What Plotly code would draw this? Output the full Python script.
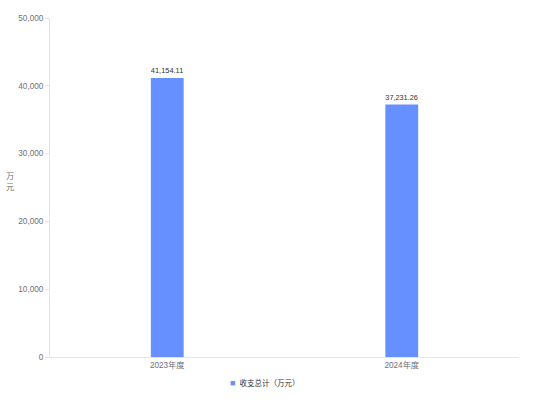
import plotly.graph_objects as go

categories = ["2023年度", "2024年度"]
values = [41154.11, 37231.26]
series_name = "收支总计（万元）"
tick_vals = [0, 10000, 20000, 30000, 40000, 50000]

font_family = "Liberation Sans, Arial, Noto Sans CJK SC, sans-serif"
bar_color = "#6690FF"

fig = go.Figure()
fig.add_trace(go.Bar(
    x=categories, y=values, name=series_name,
    marker=dict(color=bar_color, line=dict(width=0)),
    width=0.14,
    texttemplate="%{y:,.2f}", textposition="outside",
    textfont=dict(size=8.2, color="#333333", family=font_family),
    cliponaxis=False, showlegend=False,
))

fig.update_layout(
    width=534, height=400,
    margin=dict(l=50, r=15, t=18, b=43, autoexpand=False),
    paper_bgcolor="white", plot_bgcolor="white",
    font=dict(family=font_family, size=8.2, color="#6E7079"),
    showlegend=False,
    xaxis=dict(showline=True, linecolor="#E0E6F1", linewidth=1, ticks="",
               tickfont=dict(size=8.2, color="#6E7079"), showgrid=False, zeroline=False,
               automargin=False),
    yaxis=dict(range=[0, 50000], tickvals=tick_vals, tickformat=",d",
               showline=True, linecolor="#E0E6F1", linewidth=1,
               ticks="outside", ticklen=4, tickcolor="#E0E6F1",
               showgrid=False, zeroline=False, automargin=False,
               tickfont=dict(size=8.2, color="#6E7079")),
    annotations=[
        dict(text="万<br>元", xref="paper", yref="paper", x=-0.085, y=0.515,
             xanchor="center", yanchor="middle", showarrow=False,
             font=dict(size=8.2, color="#6E7079")),
        dict(text=f"<span style='color:{bar_color};font-size:9px'>■</span>  {series_name}",
             xref="paper", yref="paper", x=0.458, y=-0.077,
             xanchor="center", yanchor="middle", showarrow=False,
             font=dict(size=7.5, color="#333333")),
    ],
)

fig.write_html("out.html", config={"displayModeBar": False},
               post_script="document.body.style.margin='0';window.dispatchEvent(new Event('resize'));")
